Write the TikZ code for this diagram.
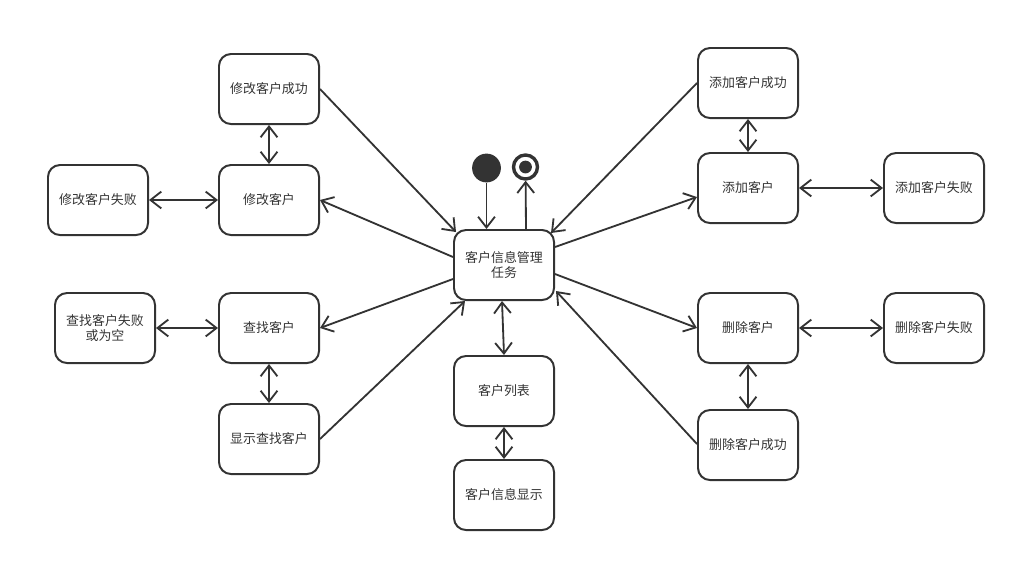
\documentclass[tikz,border=0pt]{standalone}
\usepackage{fontspec}
\newfontfamily\cjk{Noto Sans CJK SC}
\usetikzlibrary{arrows.meta,calc}
\definecolor{linea}{HTML}{333333}
\tikzset{
	estado/.style={draw=linea, line width=1.4pt, rounded corners=0.3cm, minimum width=2.5cm, minimum height=1.75cm, align=center, inner sep=1pt, text=linea, font=\cjk\fontsize{9.2}{10.8}\selectfont},
	flecha/.style={draw=linea, line width=1.3pt, -{Straight Barb[length=0.27cm,width=0.42cm]}},
	doble/.style={draw=linea, line width=1.3pt, {Straight Barb[length=0.27cm,width=0.42cm]}-{Straight Barb[length=0.27cm,width=0.42cm]}}
}

\begin{document}
\begin{tikzpicture}[x=0.025cm,y=-0.025cm]
		\useasboundingbox (0,0) rectangle (1016,562); %marco de la figura
		\node[estado] (task) at (504,265) {客户信息管理\\任务}; %estado central
		\node[estado] (modok) at (269,89) {修改客户成功};
		\node[estado] (modify) at (269,200) {修改客户};
		\node[estado] (modfail) at (98,200) {修改客户失败};
		\node[estado] (findfail) at (105,328) {查找客户失败\\或为空};
		\node[estado] (find) at (269,328) {查找客户};
		\node[estado] (findshow) at (269,439) {显示查找客户};
		\node[estado] (list) at (504,391) {客户列表};
		\node[estado] (listshow) at (504,495) {客户信息显示};
		\node[estado] (addok) at (748,83) {添加客户成功};
		\node[estado] (add) at (748,188) {添加客户};
		\node[estado] (addfail) at (934,188) {添加客户失败};
		\node[estado] (delete) at (748,328) {删除客户};
		\node[estado] (delfail) at (934,328) {删除客户失败};
		\node[estado] (delok) at (748,445) {删除客户成功};
		\node[circle, fill=linea, minimum size=0.72cm, inner sep=0pt] (start) at (486.5,168) {}; %estado inicial
		\node[circle, draw=linea, line width=2.4pt, minimum size=0.6cm, inner sep=0pt] (end) at (525.5,167) {}; %estado final
		\fill[linea] (end) circle[radius=0.16cm];
		\draw[flecha] (start) -- (start |- task.north); %inicio
		\draw[flecha] ($(task.north)+(22,0)$) -- (end); %fin
		\draw[flecha] (modok.east) -- ($(task.north west)+(3,3)$); %lado izquierdo
		\draw[flecha] ($(task.west)+(0,-8)$) -- (modify.east);
		\draw[flecha] ($(task.west)+(0,14)$) -- (find.east);
		\draw[flecha] (findshow.east) -- ($(task.south west)+(12,0)$);
		\draw[doble] (modok.south) -- (modify.north);
		\draw[doble] (modfail.east) -- (modify.west);
		\draw[doble] (findfail.east) -- (find.west);
		\draw[doble] (find.south) -- (findshow.north);
		\draw[doble] ($(task.south)+(-2,0)$) -- (list.north); %abajo
		\draw[doble] (list.south) -- (listshow.north);
		\draw[flecha] (addok.west) -- ($(task.north east)+(-4,4)$); %lado derecho
		\draw[flecha] ($(task.east)+(0,-18)$) -- ($(add.west)+(0,9)$);
		\draw[flecha] ($(task.east)+(0,9)$) -- (delete.west);
		\draw[flecha] ($(delok.west)+(0,-1)$) -- ($(task.south east)+(1,-10)$);
		\draw[doble] (addok.south) -- (add.north);
		\draw[doble] (add.east) -- (addfail.west);
		\draw[doble] (delete.east) -- (delfail.west);
		\draw[doble] (delete.south) -- (delok.north);
\end{tikzpicture}
\end{document}
